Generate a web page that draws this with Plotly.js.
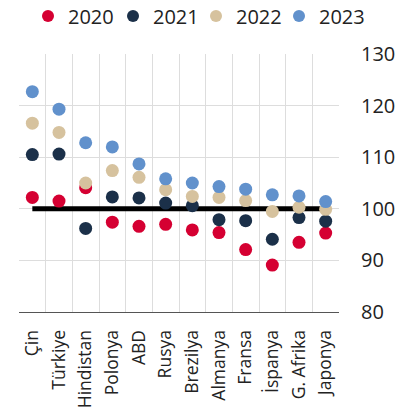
<!DOCTYPE html>
<html>
<head>
<meta charset="utf-8">
<script src="https://cdn.plot.ly/plotly-3.0.1.min.js"></script>
<style>html,body{margin:0;padding:0;background:#fff;}#chart{width:419px;height:417px;}</style>
</head>
<body>
<div id="chart"></div>
<script>
const categories = ["Çin","Türkiye","Hindistan","Polonya","ABD","Rusya","Brezilya","Almanya","Fransa","İspanya","G. Afrika","Japonya"];
const years = ["2020","2021","2022","2023"];
const v2020 = [102.2,101.5,104.1,97.4,96.6,97.0,95.9,95.4,92.1,89.1,93.5,95.3];
const v2021 = [110.5,110.6,96.2,102.3,102.1,101.1,100.6,97.9,97.7,94.1,98.3,97.6];
const v2022 = [116.6,114.8,105.0,107.4,106.1,103.7,102.4,102.2,101.6,99.5,100.3,99.9];
const v2023 = [122.7,119.3,112.8,112.0,108.7,105.8,105.0,104.3,103.8,102.7,102.5,101.4];
const baseline = 100;
const colors = ["#d50032","#1b3049","#d6c29e","#6191cc"];
const series = [v2020, v2021, v2022, v2023];
const legendLefts = [28, 113, 196, 279];

const traces = [{
  x: [categories[0], categories[categories.length-1]],
  y: [baseline, baseline],
  mode: "lines",
  line: {color: "#000", width: 5},
  showlegend: false,
  hoverinfo: "skip"
}];
const legendIds = ["legend","legend2","legend3","legend4"];
series.forEach((s, i) => {
  traces.push({
    x: categories, y: s, name: years[i], type: "scatter", mode: "markers",
    marker: {color: colors[i], size: 13}, legend: legendIds[i]
  });
});

const layout = {
  width: 419, height: 417,
  margin: {l: 19, r: 80, t: 54, b: 105},
  paper_bgcolor: "#fff", plot_bgcolor: "#fff",
  font: {family: "Open Sans", color: "#222"},
  showlegend: true,
  xaxis: {
    type: "category", categoryorder: "array", categoryarray: categories,
    range: [-0.5, 11.5], tickson: "boundaries",
    showgrid: true, gridcolor: "#dddddd", gridwidth: 1,
    showline: true, linecolor: "#555", linewidth: 1,
    ticks: "", tickangle: -90, tickfont: {size: 17.5, color: "#222"},
    ticklabelstandoff: 10, zeroline: false, fixedrange: true
  },
  yaxis: {
    side: "right", range: [80, 130], dtick: 10, tick0: 80,
    showgrid: true, gridcolor: "#dddddd", gridwidth: 1,
    showline: false, zeroline: false, ticks: "",
    tickfont: {size: 20, color: "#222"}, ticklabelstandoff: 21, fixedrange: true
  }
};
legendIds.forEach((id, i) => {
  layout[id] = {
    orientation: "h", xref: "container", yref: "container",
    x: legendLefts[i] / 419, xanchor: "left", y: 1 - 16 / 417, yanchor: "middle",
    font: {size: 20, color: "#222"}, itemwidth: 30, itemsizing: "constant",
    bgcolor: "rgba(0,0,0,0)", borderwidth: 0
  };
});
Plotly.newPlot("chart", traces, layout, {displayModeBar: false, staticPlot: true});
</script>
</body>
</html>
